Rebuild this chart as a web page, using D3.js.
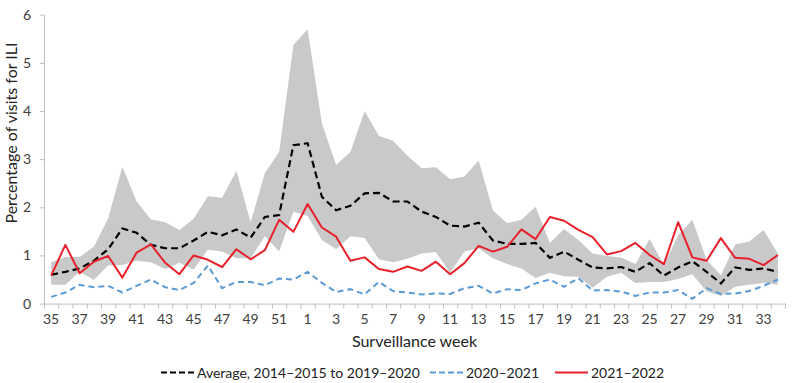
<!DOCTYPE html>
<html><head><meta charset="utf-8">
<script src="https://cdn.jsdelivr.net/npm/d3@7/dist/d3.min.js"></script>
<style>
body{margin:0;background:#fff;}
text{font-family:Lato,"Open Sans",sans-serif;}
</style></head>
<body><svg id="c" width="792" height="383"></svg>
<script>
const weeks = [35,36,37,38,39,40,41,42,43,44,45,46,47,48,49,50,51,52,1,2,3,4,5,6,7,8,9,10,11,12,13,14,15,16,17,18,19,20,21,22,23,24,25,26,27,28,29,30,31,32,33,34];
const average = [0.60,0.66,0.73,0.89,1.13,1.56,1.47,1.22,1.15,1.15,1.31,1.49,1.42,1.54,1.37,1.80,1.84,3.29,3.33,2.22,1.94,2.03,2.29,2.30,2.12,2.12,1.91,1.80,1.62,1.60,1.68,1.31,1.24,1.24,1.26,0.95,1.08,0.91,0.75,0.73,0.76,0.66,0.84,0.58,0.75,0.88,0.66,0.42,0.75,0.70,0.73,0.66];
const s2020 = [0.14,0.23,0.39,0.34,0.37,0.23,0.37,0.50,0.34,0.28,0.43,0.79,0.32,0.45,0.45,0.38,0.52,0.50,0.66,0.43,0.24,0.30,0.19,0.45,0.26,0.23,0.19,0.21,0.20,0.32,0.37,0.21,0.30,0.28,0.42,0.50,0.35,0.53,0.27,0.28,0.25,0.16,0.23,0.23,0.28,0.10,0.32,0.20,0.21,0.26,0.37,0.50];
const s2021 = [0.58,1.22,0.63,0.87,0.99,0.54,1.06,1.23,0.85,0.61,1.00,0.91,0.76,1.13,0.92,1.11,1.74,1.49,2.07,1.58,1.39,0.89,0.96,0.72,0.66,0.77,0.68,0.87,0.61,0.84,1.20,1.08,1.18,1.54,1.34,1.80,1.72,1.53,1.38,1.02,1.09,1.26,1.01,0.82,1.69,0.96,0.89,1.36,0.95,0.93,0.80,1.01];
const rangeHigh = [0.86,0.97,0.97,1.18,1.77,2.84,2.12,1.75,1.69,1.53,1.76,2.23,2.20,2.76,1.69,2.71,3.15,5.37,5.70,3.74,2.88,3.15,4.00,3.48,3.38,3.07,2.81,2.83,2.58,2.64,2.97,1.94,1.67,1.74,2.01,1.26,1.55,1.32,1.04,0.99,0.96,0.82,1.34,0.80,1.42,1.74,0.91,0.59,1.23,1.29,1.53,1.04];
const rangeLow = [0.39,0.39,0.66,0.49,0.79,0.80,0.89,0.86,0.72,0.85,0.71,1.12,1.08,0.94,0.94,1.40,1.08,1.91,1.82,1.32,1.13,1.40,1.36,0.92,0.86,0.93,1.04,1.07,0.64,1.08,1.15,0.94,0.82,0.73,0.53,0.64,0.57,0.56,0.33,0.56,0.64,0.43,0.45,0.45,0.51,0.61,0.25,0.16,0.35,0.39,0.43,0.39];
const yTicks = [0,1,2,3,4,5,6];
const legendLabels = ["Average, 2014\u20132015 to 2019\u20132020","2020\u20132021","2021\u20132022"];

const svg = d3.select("#c");
const L=44, R=785, T=14.7, B=303.6;
const x = d3.scaleBand().domain(d3.range(weeks.length)).range([L,R]).padding(0);
const xb = d3.scaleLinear().domain([0,weeks.length]).range([L,R]);
const y = d3.scaleLinear().domain([0,6]).range([B,T]);
const cx = i => x(i)+x.bandwidth()/2;

// band
const area = d3.area().x((d,i)=>cx(i)).y0((d,i)=>y(rangeLow[i])).y1((d,i)=>y(rangeHigh[i]));
svg.append("path").datum(weeks).attr("d",area).attr("fill","#c9c9c9");

// axes
const axisCol="#bfbfbf", textCol="#404040";
const ya = svg.append("g").attr("transform",`translate(${L},0)`)
  .call(d3.axisLeft(y).tickValues(yTicks).tickFormat(d3.format("d")).tickSize(4).tickSizeOuter(0).tickPadding(9));
ya.selectAll("path,line").attr("stroke",axisCol);
ya.selectAll("text").attr("fill",textCol).style("font-size","14px").style("font-family","Lato,sans-serif");

const xm = svg.append("g").attr("transform",`translate(0,${B})`)
  .call(d3.axisBottom(xb).tickValues(d3.range(weeks.length+1)).tickSize(5).tickSizeOuter(0).tickFormat(""));
xm.selectAll("path,line").attr("stroke",axisCol);
const xl = svg.append("g").attr("transform",`translate(0,${B})`)
  .call(d3.axisBottom(x).tickValues(d3.range(0,weeks.length,2)).tickSize(0).tickPadding(10).tickFormat(i=>weeks[i]));
xl.select("path").remove();
xl.selectAll("text").attr("fill",textCol).style("font-size","14px").style("font-family","Lato,sans-serif");

// lines
const line = arr => d3.line().x((d,i)=>cx(i)).y(d=>y(d))(arr);
svg.append("path").attr("d",line(s2020)).attr("fill","none").attr("stroke","#5b9bd5").attr("stroke-width",2).attr("stroke-dasharray","6,4");
svg.append("path").attr("d",line(average)).attr("fill","none").attr("stroke","#000").attr("stroke-width",2.2).attr("stroke-dasharray","7,4");
svg.append("path").attr("d",line(s2021)).attr("fill","none").attr("stroke","#e8202a").attr("stroke-width",2).attr("stroke-linejoin","round");

// axis titles
svg.append("text").attr("x",(L+R)/2).attr("y",347).attr("text-anchor","middle").attr("fill","#222").style("font-size","16px").text("Surveillance week");
svg.append("text").attr("transform",`translate(17,133) rotate(-90)`).attr("text-anchor","middle").attr("fill","#222").style("font-size","16px").text("Percentage of visits for ILI");

// legend
const leg = [
  {x0:161,x1:195,col:"#000",dash:"6,3",w:2.2,tx:197},
  {x0:430,x1:463,col:"#5b9bd5",dash:"6,3",w:2,tx:466},
  {x0:555,x1:588,col:"#e8202a",dash:null,w:2,tx:591}
];
leg.forEach((l,k)=>{
  svg.append("line").attr("x1",l.x0).attr("x2",l.x1).attr("y1",372.5).attr("y2",372.5).attr("stroke",l.col).attr("stroke-width",l.w).attr("stroke-dasharray",l.dash);
  svg.append("text").attr("x",l.tx).attr("y",377.5).attr("fill","#222").style("font-size","14px").text(legendLabels[k]);
});
</script></body></html>
